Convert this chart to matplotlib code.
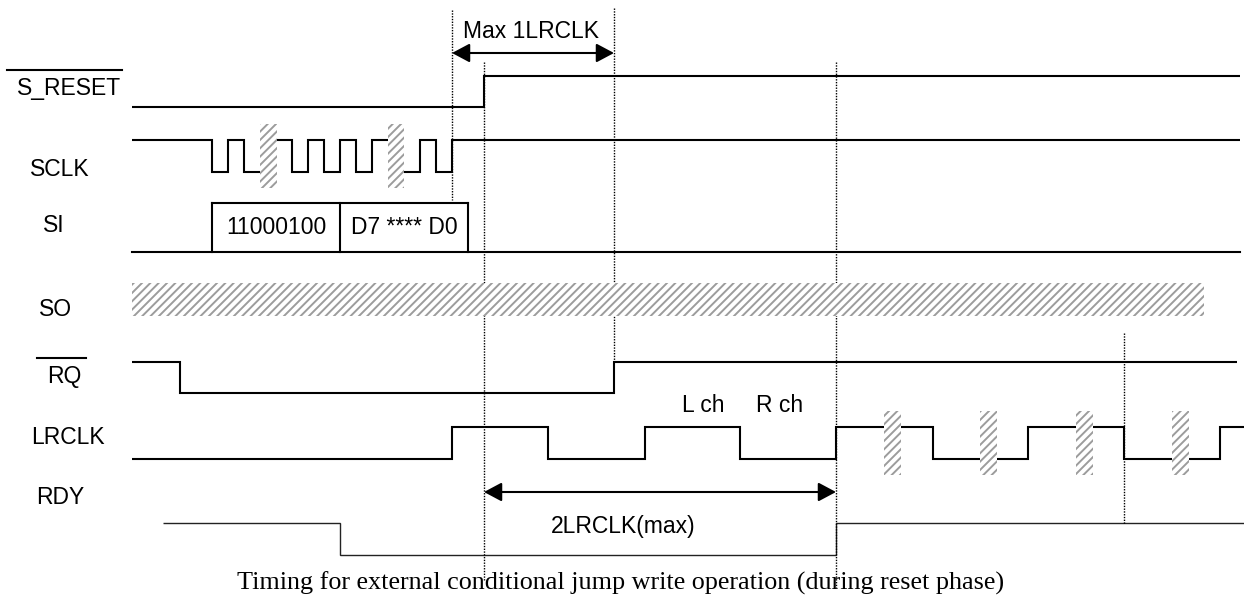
import matplotlib
matplotlib.use("Agg")
import matplotlib.pyplot as plt
from matplotlib import font_manager
from matplotlib.patches import Rectangle

# ---------------- data (time axis in drawing units) ----------------
SIGNAL_NAMES = ["S_RESET", "SCLK", "SI", "SO", "RQ", "LRCLK", "RDY"]
OVERLINED = ["S_RESET", "RQ"]

# each waveform: list of segments (edge x list, level list)
S_RESET_SEGS = [([132, 484, 1240], [0, 1])]
SCLK_SEGS = [([132, 212, 228, 244, 260], [1, 0, 1, 0]),
             ([277, 292, 308, 324, 340, 356, 372, 388], [1, 0, 1, 0, 1, 0, 1]),
             ([404, 420, 436, 452, 1240], [0, 1, 0, 1])]
SCLK_HATCH = [(260, 277), (388, 404)]
SI_BOX_EDGES = [212, 340, 468]
SI_TEXTS = ["11000100", "D7 **** D0"]
SI_SPAN = (132, 1240)
SO_SPAN = (132, 1204)
RQ_SEGS = [([132, 180, 614, 1237], [1, 0, 1])]
LRCLK_SEGS = [([132, 452, 548, 645, 740, 836, 884], [0, 1, 0, 1, 0, 1]),
              ([901, 933, 980], [1, 0]),
              ([997, 1028, 1076], [0, 1]),
              ([1093, 1124, 1172], [1, 0]),
              ([1189, 1220, 1244], [0, 1])]
LRCLK_HATCH = [(884, 901), (980, 997), (1076, 1093), (1172, 1189)]
RDY_SEGS = [([163, 340, 836, 1244], [1, 0, 1])]

MARKERS = [(452, 10, 200), (484, 62, 580), (614, 8, 363), (836, 62, 588), (1124, 333, 524)]
ARROWS = [(452, 614, "Max 1LRCLK"), (484, 836, "2LRCLK(max)")]
CHANNEL_LABELS = ["L ch", "R ch"]
CAPTION = "Timing for external conditional jump write operation (during reset phase)"

# ---------------- layout ----------------
W, H = 1244, 603
fig = plt.figure(figsize=(W / 100, H / 100), dpi=100)
ax = fig.add_axes([0, 0, 1, 1])
ax.set_xlim(0, W)
ax.set_ylim(H, 0)
ax.axis("off")

names = {f.name for f in font_manager.fontManager.ttflist}
if "Liberation Sans Narrow" in names:
    SANS, FS = "Liberation Sans Narrow", 19.5
else:
    SANS, FS = "Liberation Sans", 16.5

LEVEL_Y = {"S_RESET": (107, 76), "SCLK": (172, 140), "RQ": (393, 362),
           "LRCLK": (459, 427), "RDY": (555, 523)}
LW = 1.5


def draw_wave(segs, name, lw=LW, color="black"):
    lo, hi = LEVEL_Y[name]
    for xs, lv in segs:
        ys = [hi if v else lo for v in lv]
        ax.plot(xs, ys + [ys[-1]], drawstyle="steps-post", color=color,
                lw=lw, solid_joinstyle="miter", solid_capstyle="butt")


def hatch_rect(x0, x1, y0, y1):
    ax.add_patch(Rectangle((x0, y0), x1 - x0, y1 - y0, facecolor="white",
                           edgecolor="#9c9c9c", hatch="////", lw=0, zorder=3))


plt.rcParams["hatch.linewidth"] = 1.4

draw_wave(S_RESET_SEGS, "S_RESET")
draw_wave(SCLK_SEGS, "SCLK")
for a, b in SCLK_HATCH:
    hatch_rect(a, b, 124, 188)
draw_wave(RQ_SEGS, "RQ")
draw_wave(LRCLK_SEGS, "LRCLK")
for a, b in LRCLK_HATCH:
    hatch_rect(a, b, 411, 475)
draw_wave(RDY_SEGS, "RDY", lw=1.0, color="#222222")

# SI bus
ax.plot(SI_SPAN, [252, 252], color="black", lw=LW)
ax.plot([SI_BOX_EDGES[0], SI_BOX_EDGES[-1]], [203, 203], color="black", lw=LW)
for x in SI_BOX_EDGES:
    ax.plot([x, x], [203, 252], color="black", lw=LW)
for i, t in enumerate(SI_TEXTS):
    xc = (SI_BOX_EDGES[i] + SI_BOX_EDGES[i + 1]) / 2
    ax.text(xc, 228, t, family=SANS, fontsize=FS, ha="center", va="center")

# SO band
hatch_rect(SO_SPAN[0], SO_SPAN[1], 283, 316)

# labels
LABEL_POS = {"S_RESET": (17, 89), "SCLK": (30, 169), "SI": (43, 226), "SO": (39, 310),
             "RQ": (47, 377), "LRCLK": (31, 437), "RDY": (36, 497)}
OVER = {"S_RESET": (7, 122, 70), "RQ": (37, 86, 358)}
for n in SIGNAL_NAMES:
    x, y = LABEL_POS[n]
    ax.text(x, y, n, family=SANS, fontsize=FS, ha="left", va="center")
    if n in OVERLINED:
        x0, x1, yo = OVER[n]
        ax.plot([x0, x1], [yo, yo], color="black", lw=1.5)

# dotted markers
for x, y0, y1 in MARKERS:
    ax.plot([x, x], [y0, y1], color="black", lw=1.0, linestyle=(0, (1.0, 1.0)))

# arrows
ARROW_Y = [53, 492]
TEXT_POS = [(531, 31), (623, 527)]
for (xa, xb, lab), ya, (tx, ty) in zip(ARROWS, ARROW_Y, TEXT_POS):
    ax.annotate("", xy=(xb, ya), xytext=(xa, ya),
                arrowprops=dict(arrowstyle="<|-|>,head_length=0.6,head_width=0.32",
                                mutation_scale=18, lw=1.5, color="black",
                                shrinkA=0, shrinkB=0))
    ax.text(tx, ty, lab, family=SANS, fontsize=FS, ha="center", va="center")

ax.text(703, 406, CHANNEL_LABELS[0], family=SANS, fontsize=FS, ha="center", va="center")
ax.text(780, 406, CHANNEL_LABELS[1], family=SANS, fontsize=FS, ha="center", va="center")

ax.text(621, 590, CAPTION, family="Liberation Serif", fontsize=18.8, ha="center",
        va="baseline")

fig.savefig("out.png", dpi=100)
